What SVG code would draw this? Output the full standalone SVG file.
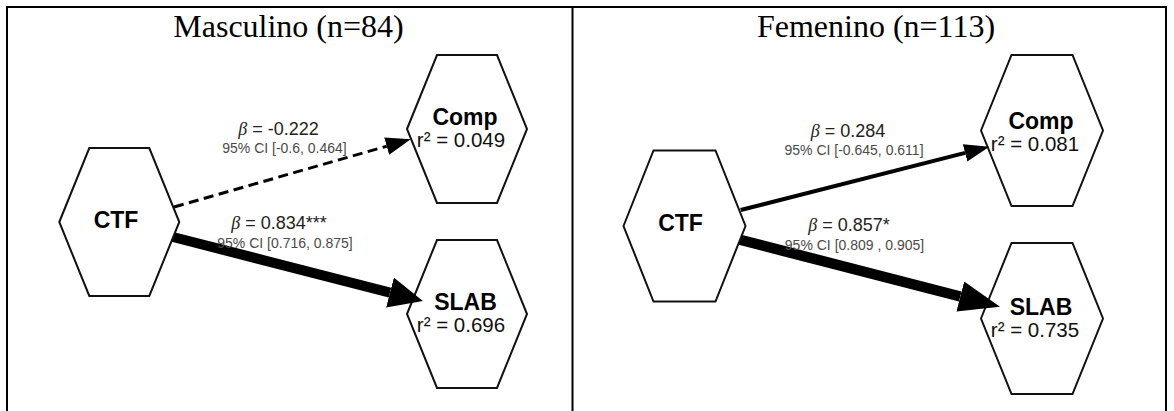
<svg xmlns="http://www.w3.org/2000/svg" width="1174" height="411" viewBox="0 0 1174 411">
<style>
.frame{stroke:#000;stroke-width:2;fill:none}
.hex{fill:#fff;stroke:#111;stroke-width:2;stroke-linejoin:miter}
.title{font-family:"Liberation Serif",serif;font-size:32px;fill:#000;text-anchor:middle}
.nl{font-family:"Liberation Sans",Arial,sans-serif;font-size:23px;font-weight:bold;fill:#000;text-anchor:middle}
.r2{font-family:"Liberation Sans",Arial,sans-serif;font-size:20.5px;fill:#111;text-anchor:middle}
.beta{font-family:"Liberation Sans",Arial,sans-serif;font-size:18px;fill:#222;text-anchor:middle}
.b{font-family:"Liberation Serif",serif;font-style:italic}
.ci{font-family:"Liberation Sans",Arial,sans-serif;font-size:14px;fill:#4a4a4a;text-anchor:middle}
.edge{stroke:#000;fill:none;stroke-linecap:butt}
</style>
<defs>
<marker id="headS" markerUnits="userSpaceOnUse" markerWidth="25" markerHeight="18" refX="0" refY="9" orient="auto" viewBox="0 0 25 18">
<path d="M0,0 L25,9 L0,18 Z" fill="#000"/>
</marker>
<marker id="headL" markerUnits="userSpaceOnUse" markerWidth="34" markerHeight="31" refX="0" refY="15.5" orient="auto" viewBox="0 0 34 31">
<path d="M0,0 L34,15.5 L0,31 Z" fill="#000"/>
</marker>
<marker id="headL2" markerUnits="userSpaceOnUse" markerWidth="41" markerHeight="31" refX="0" refY="15.5" orient="auto" viewBox="0 0 41 31">
<path d="M0,0 L41,15.5 L0,31 Z" fill="#000"/>
</marker>
</defs>

<g id="frame">
<line class="frame" x1="6" y1="7" x2="1167" y2="7"/>
<line class="frame" x1="7" y1="7" x2="7" y2="411"/>
<line class="frame" x1="572.5" y1="7" x2="572.5" y2="411"/>
<line class="frame" x1="1166" y1="7" x2="1166" y2="411"/>
</g>

<text class="title" x="288.5" y="36.5">Masculino (n=84)</text>
<text class="title" x="876" y="36.5">Femenino (n=113)</text>

<g id="m-comp">
<polygon class="hex" points="407,129 437,55 497,55 527,129 497,203 437,203"/>
<text class="nl" x="465" y="125">Comp</text>
<text class="r2" x="461" y="147">r² = 0.049</text>
</g>
<g id="m-slab">
<polygon class="hex" points="407,314 437,240 497,240 527,314 497,388 437,388"/>
<text class="nl" x="465.5" y="310">SLAB</text>
<text class="r2" x="461" y="332">r² = 0.696</text>
</g>
<g id="f-comp">
<polygon class="hex" points="981,130.5 1011.5,55 1072.5,55 1103,130.5 1072.5,206 1011.5,206"/>
<text class="nl" x="1041" y="128.5">Comp</text>
<text class="r2" x="1035" y="150.5">r² = 0.081</text>
</g>
<g id="f-slab">
<polygon class="hex" points="981,318.5 1011.5,243 1072.5,243 1103,318.5 1072.5,394 1011.5,394"/>
<text class="nl" x="1041" y="314.5">SLAB</text>
<text class="r2" x="1035" y="337">r² = 0.735</text>
</g>

<g id="connectors">
<line class="edge" x1="174" y1="207" x2="386.7" y2="146.2" stroke-width="3" stroke-dasharray="10,5.5" marker-end="url(#headS)"/>
<line class="edge" x1="171" y1="236.5" x2="390" y2="292.6" stroke-width="10" marker-end="url(#headL)"/>
<line class="edge" x1="740.7" y1="210" x2="965.1" y2="152.9" stroke-width="4" marker-end="url(#headS)"/>
<line class="edge" x1="739" y1="239.5" x2="960.3" y2="296.5" stroke-width="10.5" marker-end="url(#headL2)"/>
<text class="beta" x="278.5" y="135"><tspan class="b">β</tspan> = -0.222</text>
<text class="ci" x="284.5" y="153">95% CI [-0.6, 0.464]</text>
<text class="beta" x="279" y="228.5"><tspan class="b">β</tspan> = 0.834***</text>
<text class="ci" x="285" y="247.5">95% CI [0.716, 0.875]</text>
<text class="beta" x="848" y="137"><tspan class="b">β</tspan> = 0.284</text>
<text class="ci" x="854" y="155">95% CI [-0.645, 0.611]</text>
<text class="beta" x="849" y="231"><tspan class="b">β</tspan> = 0.857*</text>
<text class="ci" x="854.5" y="250">95% CI [0.809 , 0.905]</text>
</g>

<g id="m-ctf">
<polygon class="hex" points="59.3,222 89.3,148 149.3,148 179.3,222 149.3,296 89.3,296"/>
<text class="nl" x="116" y="228">CTF</text>
</g>
<g id="f-ctf">
<polygon class="hex" points="623.5,226 653.5,150.5 715.5,150.5 745.5,226 715.5,301.5 653.5,301.5"/>
<text class="nl" x="680.5" y="231">CTF</text>
</g>
</svg>
